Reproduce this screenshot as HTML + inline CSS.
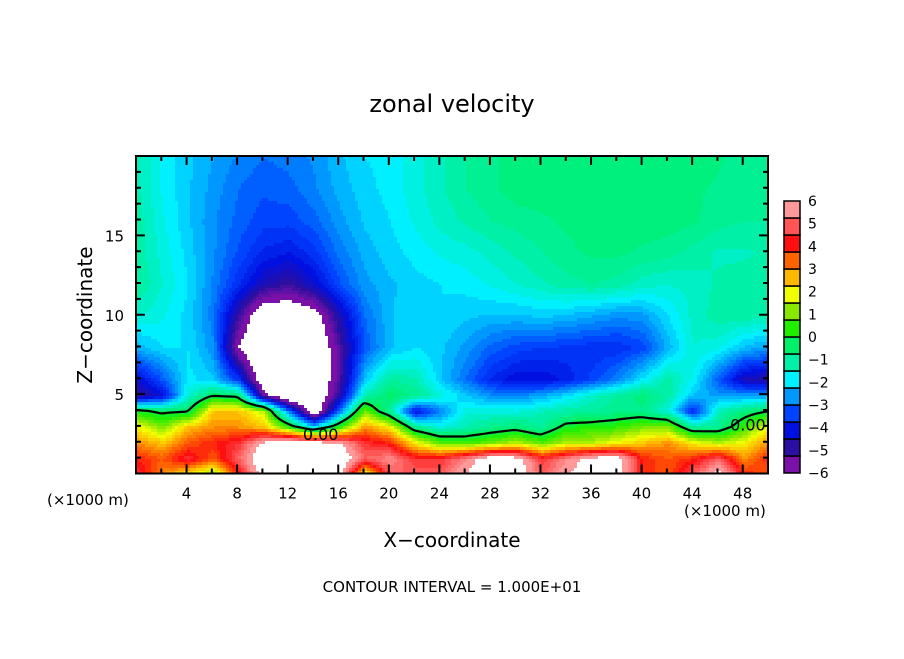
<!DOCTYPE html>
<html><head><meta charset="utf-8"><style>
body{margin:0;background:#fff;}
svg text{font-family:"DejaVu Sans","Liberation Sans",sans-serif;fill:#000;}
</style></head><body>
<svg id="chart" width="904" height="654" xmlns="http://www.w3.org/2000/svg">
<rect width="904" height="654" fill="#fff"/>
<text x="452" y="112" font-size="24" text-anchor="middle">zonal velocity</text>
<g id="field"></g>
<g id="zline"></g>
<g id="axes"></g>
<g id="cbar"></g>
<text transform="translate(92,315) rotate(-90)" font-size="20" text-anchor="middle">Z−coordinate</text>
<text x="452" y="547" font-size="20" text-anchor="middle">X−coordinate</text>
<text x="47" y="505" font-size="15">(×1000 m)</text>
<text x="684" y="516" font-size="15">(×1000 m)</text>
<text x="452" y="592" font-size="15" text-anchor="middle">CONTOUR INTERVAL = 1.000E+01</text>
</svg>
<script>
const xNodes=[0,2,4,6,8,10,12,14,16,18,20,22,24,26,28,30,32,34,36,38,40,42,44,46,48,50];
const zNodes=[0,1,2,3,4,5,6,8,10,12,14,16,18,20];
const u0=[4.5,3,2,1,4,6.5,7,7,6.5,1.5,5,5,5,6,7,6.8,5,6,6.5,6.5,4,3.5,5,6.5,4,3.5];
const u1=[4,3.5,4.5,3.5,5,7,7.5,7.5,7,5,5.5,4.5,4.5,5.5,6.8,6.5,4.5,5.5,6.5,6.5,4,3.5,4,5,3,4];
const u2=[3,2.5,3.5,4,4.5,6.2,6.8,6.5,6,4.5,4,2,0.8,0.6,1,1.5,0.8,1.5,1.5,2,2.5,3,2,1.5,2,3];
const u3=[2,1,2.5,3,3,2.5,0.5,-2,0.5,3,2,-0.8,-1.6,-1.2,-0.8,-0.5,-1,0.2,0.3,0.5,1,1,-1,-0.8,0.5,2];
const u4=[0.1,-0.3,-0.3,2.5,2.5,1.5,-3,-7,-3,1,-1,-4.2,-2.8,-1.6,-1.6,-1.6,-1.3,-1.1,-1,-0.8,-0.8,-1.6,-3.8,-1.3,-0.6,-0.2];
const u5=[-5,-4.2,-1.6,-0.3,-0.5,-5.5,-7.5,-7.2,-4.8,-1.2,-0.4,-0.8,-1.6,-2.2,-2.7,-2.8,-2.5,-2,-1.4,-1,-0.6,-1.1,-2.3,-2.6,-2.6,-2.5];
const u6=[-4.3,-3.2,-1.9,-2.2,-3.6,-7,-7.5,-7.2,-5.2,-2.2,-1,-1.2,-2.2,-3,-3.8,-4.2,-4.2,-3.9,-3.4,-2.8,-1.9,-1.1,-1.8,-3.2,-4.6,-4.8];
const u8=[-2.4,-2,-2,-2.7,-6,-7.5,-7.5,-7.2,-5.2,-3.2,-2.3,-2,-2.2,-2.6,-3.1,-3.4,-3.5,-3.6,-3.7,-3.7,-3.4,-2.4,-1.5,-1.7,-2.3,-2.6];
const u10=[-1.5,-1.7,-2.1,-2.9,-5,-7,-7,-6.5,-4.6,-3,-2.3,-2,-2,-2.2,-2.3,-2.3,-2.2,-2.3,-2.5,-2.7,-2.6,-2,-1.4,-1.1,-1.1,-1.2];
const u12=[-1,-1.5,-2,-2.8,-3.7,-4.6,-5,-4.3,-3.3,-2.6,-2.3,-2.1,-2,-1.9,-1.7,-1.5,-1.3,-1.1,-1,-1.1,-1.4,-1.5,-1.4,-1.2,-1.1,-1];
const u14=[-1.1,-1.6,-2.1,-2.7,-3.3,-3.8,-4,-3.6,-2.9,-2.4,-2.1,-1.9,-1.7,-1.6,-1.4,-1.2,-1,-0.8,-0.7,-0.7,-0.8,-0.9,-1.1,-1.3,-1.3,-1.2];
const u16=[-1.1,-1.7,-2.2,-2.7,-3.1,-3.4,-3.4,-3.1,-2.6,-2.2,-2,-1.7,-1.4,-1.2,-1,-0.9,-0.8,-0.7,-0.7,-0.6,-0.6,-0.6,-0.7,-0.9,-1,-1];
const u18=[-1.2,-1.8,-2.2,-2.6,-3,-3.2,-3.1,-2.8,-2.4,-2.1,-1.9,-1.6,-1.3,-1,-0.8,-0.6,-0.6,-0.6,-0.6,-0.6,-0.6,-0.6,-0.7,-0.8,-0.9,-1];
const u20=[-1.2,-1.8,-2.2,-2.5,-2.8,-3,-2.9,-2.7,-2.3,-2,-1.9,-1.6,-1.3,-1,-0.8,-0.6,-0.6,-0.6,-0.6,-0.6,-0.6,-0.6,-0.6,-0.7,-0.9,-1];
const field=[u0,u1,u2,u3,u4,u5,u6,u8,u10,u12,u14,u16,u18,u20];
const xTicks=[4,8,12,16,20,24,28,32,36,40,44,48];
const yTicks=[5,10,15];
const cbLabels=[6,5,4,3,2,1,0,-1,-2,-3,-4,-5,-6];
const levelColors=["#7a10a8","#2a0fa0","#0010e0","#0044ff","#0098ff","#00f0ff","#00f0a8","#00f068","#20f000","#88e800","#f0ff00","#ffb800","#ff6400","#ff1010","#ff5555","#ff9898"];

const NS="http://www.w3.org/2000/svg";
const L=136,R=768,T=156,B=473.5;
const sx=x=>L+(x-0)/(50-0)*(R-L);
const sy=z=>B-(z-0)/(20-0)*(B-T);
function mk(tag,attrs,parent){const e=document.createElementNS(NS,tag);for(const k in attrs)e.setAttribute(k,attrs[k]);parent.appendChild(e);return e;}
function seg(arr,v){let i=0;while(i<arr.length-2&&v>arr[i+1])i++;return [i,(v-arr[i])/(arr[i+1]-arr[i])];}
function val(x,z){const [i,fx]=seg(xNodes,x),[j,fz]=seg(zNodes,z);
 const a=field[j][i],b=field[j][i+1],c=field[j+1][i],d=field[j+1][i+1];
 return (a*(1-fx)+b*fx)*(1-fz)+(c*(1-fx)+d*fx)*fz;}
function hex(h){return [parseInt(h.substr(1,2),16),parseInt(h.substr(3,2),16),parseInt(h.substr(5,2),16)];}
const rgbs=levelColors.map(hex);
function color(v){if(v<-6||v>6)return "#ffffff";
 let f=(v+6)/0.75-0.5;f=Math.round(f*3)/3;if(f<0)f=0;if(f>15)f=15;
 const i=Math.min(Math.floor(f),14),t=f-i;const a=rgbs[i],b=rgbs[i+1];
 return "rgb("+a.map((c,k)=>Math.round(c+(b[k]-c)*t)).join(",")+")";}

const fg=document.getElementById('field');
const step=3,nx=Math.ceil((R-L)/step),nz=Math.ceil((B-T)/step);
const grid=[];
for(let r=0;r<=nz;r++){grid.push([]);for(let c=0;c<=nx;c++){const px=Math.min(L+c*step,R),py=Math.min(T+r*step,B);
 grid[r].push(val((px-L)/(R-L)*50,(B-py)/(B-T)*20));}}
for(let r=0;r<nz;r++){let c=0;while(c<nx){const col=color(grid[r][c]);let c2=c+1;while(c2<nx&&color(grid[r][c2])===col)c2++;
 const rect=mk('rect',{x:L+c*step,y:T+r*step,width:Math.min((c2-c)*step,R-L-c*step)+0.4,height:step+0.4,fill:col},fg);
 
 
 c=c2;}}
const zl=document.getElementById('zline');let d="";
for(let r=0;r<nz;r++)for(let c=0;c<nx;c++){
 const x0=L+c*step,y0=T+r*step;const v=[grid[r][c],grid[r][c+1],grid[r+1][c+1],grid[r+1][c]];
 const p=[[x0,y0],[x0+step,y0],[x0+step,y0+step],[x0,y0+step]];const pts=[];
 for(let e=0;e<4;e++){const a=v[e],b=v[(e+1)%4];if((a<0)!==(b<0)){const t=a/(a-b);pts.push([p[e][0]+(p[(e+1)%4][0]-p[e][0])*t,p[e][1]+(p[(e+1)%4][1]-p[e][1])*t]);}}
 for(let k=0;k+1<pts.length;k+=2)d+=`M${pts[k][0].toFixed(1)},${pts[k][1].toFixed(1)}L${pts[k+1][0].toFixed(1)},${pts[k+1][1].toFixed(1)}`;}
const zp=mk('path',{d:d,stroke:'#000','stroke-width':2.2,fill:'none'},zl);


[[13.2,2.6],[47,3.2]].forEach(([x,z])=>{const t=mk('text',{x:sx(x),y:sy(z)+8,'font-size':16,'text-anchor':'start'},zl);t.textContent='0.00';
 
 });
const ax=document.getElementById('axes');
const fr=mk('rect',{x:L,y:T,width:R-L,height:B-T,fill:'none',stroke:'#000','stroke-width':2},ax);


for(let x=2;x<50;x+=2){const len=(x%4===0)?9:5;
 mk('line',{x1:sx(x),x2:sx(x),y1:B,y2:B-len,stroke:'#000','stroke-width':2},ax);
 mk('line',{x1:sx(x),x2:sx(x),y1:T,y2:T+len,stroke:'#000','stroke-width':2},ax);}
for(let z=1;z<20;z++){const len=(z%5===0)?9:5;
 mk('line',{x1:L,x2:L+len,y1:sy(z),y2:sy(z),stroke:'#000','stroke-width':2},ax);
 mk('line',{x1:R,x2:R-len,y1:sy(z),y2:sy(z),stroke:'#000','stroke-width':2},ax);}
xTicks.forEach(x=>{const t=mk('text',{x:sx(x),y:B+25,'font-size':15,'text-anchor':'middle'},ax);t.textContent=x;
 
 });
yTicks.forEach(z=>{const t=mk('text',{x:L-12,y:sy(z)+6,'font-size':15,'text-anchor':'end'},ax);t.textContent=z;
 
 });
const cb=document.getElementById('cbar');const cT=201,cB=473,cL=784,cW=16;const bh=(cB-cT)/levelColors.length;
levelColors.forEach((col,k)=>{const r=mk('rect',{x:cL,y:cB-(k+1)*bh,width:cW,height:bh,fill:col,stroke:'#000','stroke-width':1.5},cb);
 
 });
cbLabels.forEach((v,i)=>{const t=mk('text',{x:808,y:cT+i*(cB-cT)/12+5,'font-size':14},cb);t.textContent=v<0?'−'+(-v):String(v);
 
 });
</script>
</body></html>
